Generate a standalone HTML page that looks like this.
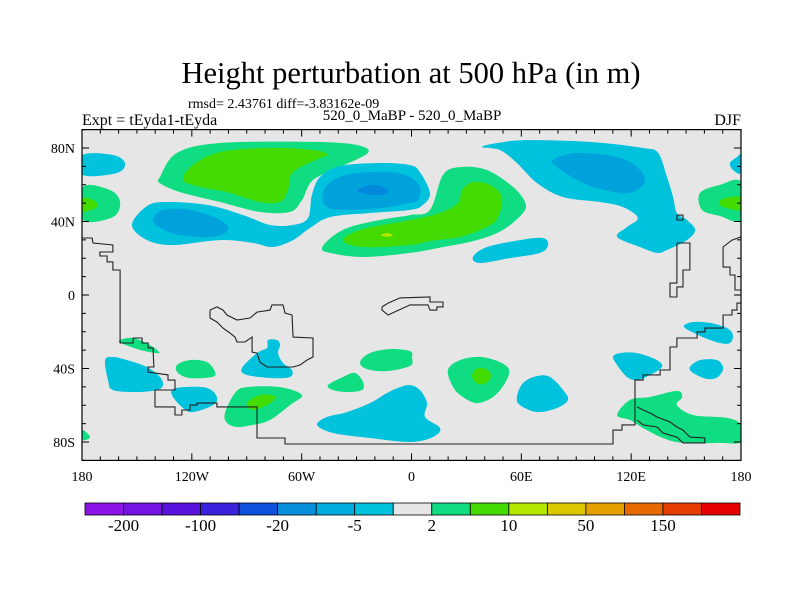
<!DOCTYPE html>
<html><head><meta charset="utf-8"><style>
body{margin:0;background:#fff;}
svg{display:block;font-family:"Liberation Serif",serif;}
</style></head><body>
<svg id="chart" width="800" height="600" viewBox="0 0 800 600" xmlns="http://www.w3.org/2000/svg">
<text x="411" y="83" font-size="30.5" text-anchor="middle">Height perturbation at 500 hPa (in m)</text>
<text x="188" y="108" font-size="14">rmsd= 2.43761 diff=-3.83162e-09</text>
<text x="82" y="125" font-size="16">Expt = tEyda1-tEyda</text>
<text x="412" y="120" font-size="15" text-anchor="middle">520_0_MaBP - 520_0_MaBP</text>
<text x="741" y="125" font-size="16" text-anchor="end">DJF</text>
<g id="plot"></g>
<g id="cbar"></g>
</svg>
<script>
// map axes domains
const lonTicks=[-180,-120,-60,0,60,120,180];
const lonTickLabels=["180","120W","60W","0","60E","120E","180"];
const latTicks=[80,40,0,-40,-80];
const latTickLabels=["80N","40N","0","40S","80S"];
// colorbar levels
const cbarColors=["#8c14e6","#7414e2","#5a12de","#3a22dc","#0c50dc","#0890dc","#00aadc","#00c2dc","#e6e6e6","#10dc82","#44dc00","#b4e600","#dcc800","#e6a000","#e66a00","#e63c00","#e60000"];
const cbarLabels=["-200","-100","-20","-5","2","10","50","150"];
// contour level colors (by level index)
const levelColors={"-5":"#00c2dc","-10":"#00a2dc","-20":"#0088dc","5":"#10dc82","10":"#44dc00","20":"#b4e600"};
// contour polygons in [lon,lat] pairs
const contourLevels=[];const contourPolys=[];
function P(level,pts){contourLevels.push(level);contourPolys.push(pts);}
const X0=82,X1=741,Y0=129.6,Y1=460.4;
function xs(lon){return X0+(lon+180)*(X1-X0)/360;}
function ys(lat){return Y0+(90-lat)*(Y1-Y0)/180;}
function lonOf(px){return (px-X0)*360/(X1-X0)-180;}
function latOf(py){return 90-(py-Y0)*180/(Y1-Y0);}
function LL(arr){const o=[];for(let i=0;i<arr.length;i+=2)o.push([+lonOf(arr[i]).toFixed(1),+latOf(arr[i+1]).toFixed(1)]);return o;}
P(-5,LL([83,155,113,155,125,163,117,173,83,175]));
P(5,LL([83,187,110,190,120,202,113,217,83,220]));
P(10,LL([83,198,95,201,97,207,88,211,83,211]));
P(5,LL([741,182,720,185,700,193,702,210,720,216,741,220]));
P(10,LL([741,197,722,199,720,205,727,208,741,210]));
P(-5,LL([741,155,737,157,730,163,733,170,741,173]));
P(5,LL([160,177,177,153,220,143,313,142,357,145,368,153,340,167,313,180,302,200,290,212,260,212,220,202,180,192,160,183]));
P(10,LL([183,180,193,165,220,152,267,148,313,150,328,155,320,158,293,172,288,190,280,202,260,202,227,192,200,187]));
P(-5,LL([132,225,147,206,167,202,207,205,243,215,270,225,293,225,308,218,312,195,320,177,340,166,380,163,410,165,420,172,430,193,423,205,410,210,370,213,330,217,310,228,293,240,273,247,253,243,220,240,173,245,147,240]));
P(-10,LL([153,220,163,210,190,210,220,220,228,230,213,237,180,235,160,228]));
P(-10,LL([323,193,333,180,357,173,390,172,410,177,420,187,418,200,410,203,380,208,340,210,325,205]));
P(-20,LL([357,190,373,185,388,190,382,195,367,194]));
P(5,LL([322,248,333,236,350,227,380,220,410,215,430,210,443,175,460,167,487,170,513,187,525,202,523,213,503,230,477,240,443,247,410,253,363,257,330,253]));
P(10,LL([343,240,363,229,410,220,440,213,458,203,462,190,473,182,490,185,502,197,498,217,487,227,460,237,430,241,410,245,363,247]));
P(20,LL([381,235,387,233,393,235,387,237]));
P(-5,LL([482,147,497,143,527,140,590,142,643,148,658,153,667,177,673,197,677,213,687,220,695,230,687,240,667,250,657,253,640,247,617,237,627,227,638,218,623,207,600,202,563,197,537,183,517,163,500,150]));
P(-10,LL([553,160,577,153,617,157,637,167,645,180,637,190,623,193,597,188,577,180,557,167]));
P(-5,LL([473,257,487,247,520,240,543,238,548,245,540,253,510,258,480,263]));
P(5,LL([120,340,133,338,150,345,159,353,140,350,121,343]));
P(-5,LL([105,360,113,357,127,360,147,367,160,377,163,385,157,390,137,392,113,390,108,380]));
P(5,LL([177,365,190,360,207,362,215,372,212,377,190,378,178,373]));
P(-5,LL([242,368,257,353,267,348,268,340,277,340,280,345,278,353,283,363,292,370,290,377,273,378,247,375]));
P(-5,LL([172,390,183,387,207,388,217,397,213,405,193,412,183,408,173,397]));
P(5,LL([225,413,235,393,247,387,280,387,302,395,290,405,270,420,253,425,237,427,227,423]));
P(10,LL([247,403,260,395,275,396,270,403,253,410]));
P(5,LL([83,430,90,437,83,440]));
P(5,LL([328,385,343,377,355,373,363,382,362,390,347,392,333,390]));
P(5,LL([360,362,370,353,390,349,410,351,412,358,410,366,387,371,367,369]));
P(-5,LL([317,425,327,417,347,412,370,403,387,393,400,387,410,385,420,390,427,403,425,417,440,428,433,437,410,442,370,438,333,433]));
P(5,LL([448,370,460,360,480,357,500,362,509,370,505,383,493,397,477,403,463,397,453,387]));
P(10,LL([472,377,475,370,482,368,489,371,491,377,486,383,478,384]));
P(-5,LL([517,397,523,383,537,376,550,377,563,390,568,400,557,408,537,412,520,405]));
P(-5,LL([613,357,620,353,637,353,657,360,662,367,650,375,637,380,627,377,617,365]));
P(-5,LL([684,327,693,322,710,323,727,328,733,335,730,343,720,343,703,337]));
P(-5,LL([690,367,700,360,717,360,723,368,718,377,707,379,693,373]));
P(5,LL([617,415,630,400,650,397,677,391,682,397,677,405,693,415,727,418,741,425,741,442,720,443,683,443,663,438,643,428,630,420]));
// coastlines [lon,lat]
const coastLines=[
LL([82,238,92,238,93,243,113,245,113,252,100,252,100,256,107,256,107,262,113,262,113,270,120,270,120,293,120,343,128,343,133,343,133,338,142,338,142,343,148,343,148,348,153,348,154,367,148,367,148,372,168,375,168,380,175,380,175,390,155,390,155,407,175,407,175,415,182,415,182,410,190,410,190,405,197,405,197,403,217,403,217,407,257,407,257,438,285,438,285,444,613,444,613,430,622,430,622,425,635,425,635,380,643,380,643,375,660,375,660,370,670,370,670,347,677,347,677,338,697,338,697,332,705,332,705,328,723,328,723,315,732,315,732,310,737,310,737,303,741,303]),
LL([210,310,217,307,223,310,227,315,237,320,250,318,257,312,270,310,272,305,283,305,285,313,292,315,293,337,313,338,313,357,307,360,300,365,293,367,267,367,260,362,257,353,252,352,252,337,245,342,237,342,235,337,230,333,223,328,217,322,210,318,210,310]),
LL([382,307,388,303,400,298,430,297,430,302,443,302,443,307,437,307,437,310,430,310,428,305,410,305,388,315,382,310,382,307]),
LL([637,407,643,410,650,413,657,417,670,422,677,427,683,430,690,437,705,438,705,443,683,443,677,437,663,433,657,427,643,425,637,420]),
LL([677,243,690,243,690,270,683,270,683,287,677,287,677,297,670,297,670,283,677,283,677,243]),
LL([677,215,683,215,683,220,677,220,677,215]),
LL([741,237,732,240,723,247,723,267,730,267,730,275,735,275,735,290,741,290])
];
const NS="http://www.w3.org/2000/svg";
function mk(tag,attrs,parent){const e=document.createElementNS(NS,tag);for(const k in attrs)e.setAttribute(k,attrs[k]);parent.appendChild(e);return e;}
function smoothPath(pts){
  const n=pts.length;let d="";
  for(let i=0;i<n;i++){
    const p0=pts[(i-1+n)%n],p1=pts[i],p2=pts[(i+1)%n],p3=pts[(i+2)%n];
    if(i===0)d+="M"+p1[0].toFixed(1)+","+p1[1].toFixed(1);
    const c1=[p1[0]+(p2[0]-p0[0])/6,p1[1]+(p2[1]-p0[1])/6];
    const c2=[p2[0]-(p3[0]-p1[0])/6,p2[1]-(p3[1]-p1[1])/6];
    d+="C"+c1[0].toFixed(1)+","+c1[1].toFixed(1)+" "+c2[0].toFixed(1)+","+c2[1].toFixed(1)+" "+p2[0].toFixed(1)+","+p2[1].toFixed(1);
  }
  return d+"Z";
}
const plot=document.getElementById('plot');
const clip=mk('clipPath',{id:'pc'},plot);
mk('rect',{x:X0,y:Y0,width:X1-X0,height:Y1-Y0},clip);
const bg=mk('rect',{x:X0,y:Y0,width:X1-X0,height:Y1-Y0,fill:'#e6e6e6'},plot);


const cg=mk('g',{'clip-path':'url(#pc)'},plot);


contourPolys.forEach((poly,i)=>{
  const pts=poly.map(p=>[xs(p[0]),ys(p[1])]);
  const el=mk('path',{d:smoothPath(pts),fill:levelColors[String(contourLevels[i])]},cg);
  
  
});
const coast=mk('g',{'clip-path':'url(#pc)',fill:'none',stroke:'#222','stroke-width':'1.1'},plot);


coastLines.forEach(line=>{
  const el=mk('polyline',{points:line.map(p=>xs(p[0]).toFixed(1)+","+ys(p[1]).toFixed(1)).join(" ")},coast);
  
  
});
const frame=mk('rect',{x:X0,y:Y0,width:X1-X0,height:Y1-Y0,fill:'none',stroke:'#000','stroke-width':'1.2'},plot);


const ticks=mk('g',{stroke:'#000','stroke-width':'1'},plot);


for(let lon=-180;lon<=180;lon+=10){
  const L=lon%60===0?7:4;const x=xs(lon);
  mk('line',{x1:x,y1:Y1,x2:x,y2:Y1-L},ticks);mk('line',{x1:x,y1:Y0,x2:x,y2:Y0+L},ticks);
}
for(let lat=-90;lat<=90;lat+=10){
  const L=(lat%40===0)?7:4;const y=ys(lat);
  mk('line',{x1:X0,y1:y,x2:X0+L,y2:y},ticks);mk('line',{x1:X1,y1:y,x2:X1-L,y2:y},ticks);
}
lonTicks.forEach((lon,i)=>{
  const t=mk('text',{x:xs(lon),y:481,'font-size':'14','text-anchor':'middle'},plot);
  t.textContent=lonTickLabels[i];
  
  
});
latTicks.forEach((lat,i)=>{
  const t=mk('text',{x:75,y:ys(lat)+5,'font-size':'14','text-anchor':'end'},plot);
  t.textContent=latTickLabels[i];
  
  
});
const cb=document.getElementById('cbar');


const CB0=85,CB1=740,bw=(CB1-CB0)/cbarColors.length;
cbarColors.forEach((c,i)=>{
  const r=mk('rect',{x:CB0+i*bw,y:503,width:bw,height:12,fill:c,stroke:'#000','stroke-width':'0.8'},cb);
  
  
});
cbarLabels.forEach((s,i)=>{
  const t=mk('text',{x:CB0+(2*i+1)*bw,y:531,'font-size':'17','text-anchor':'middle'},cb);
  t.textContent=s;
  
  
});
</script>
</body></html>
